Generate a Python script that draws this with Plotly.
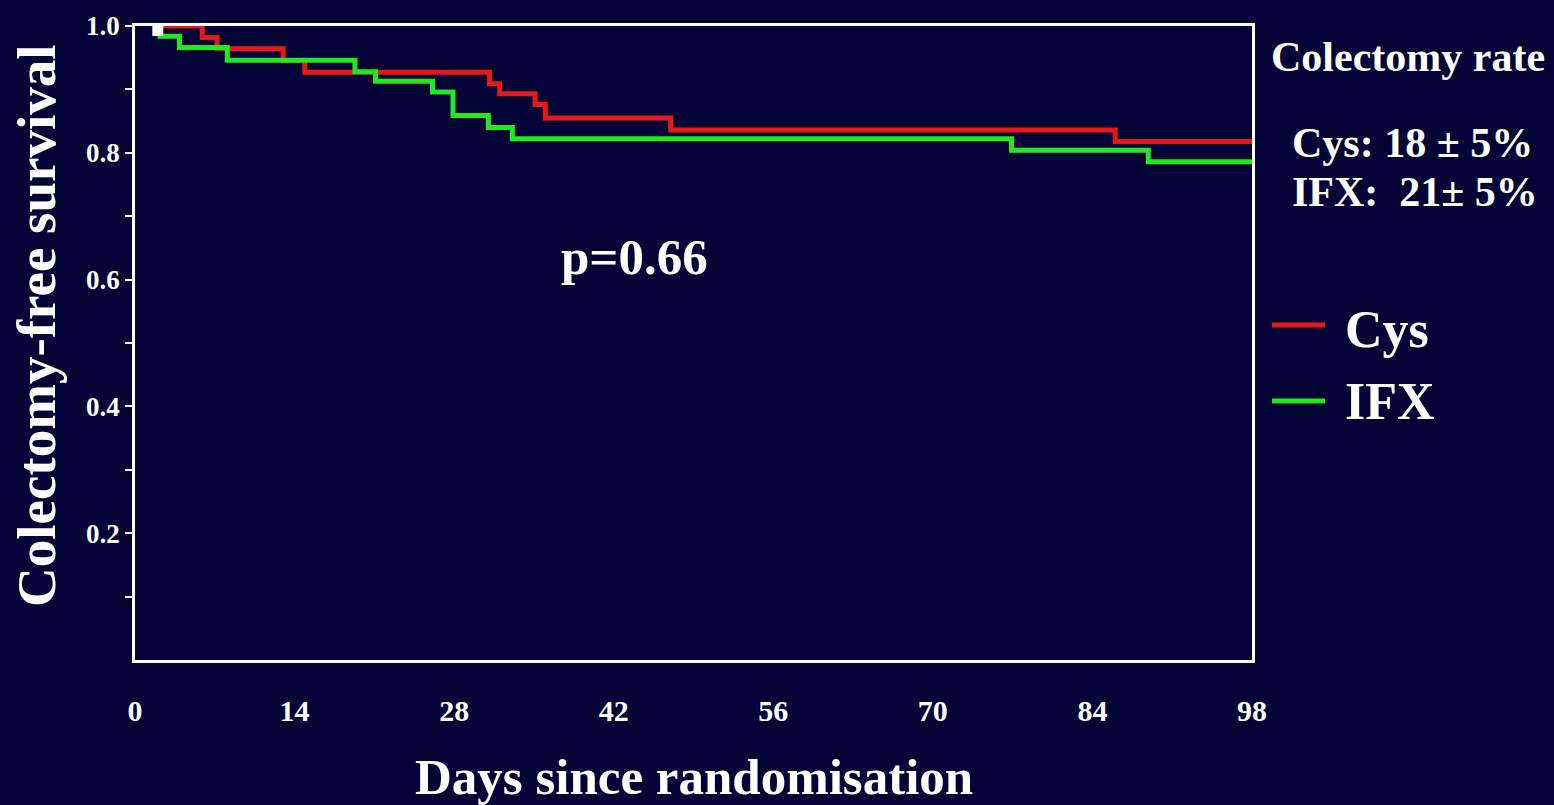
import plotly.graph_objects as go

# ---- data: Kaplan-Meier steps (day, colectomy-free survival) ----
cys_days = [2, 5.9, 7.2, 13.0, 14.9, 31.1, 32.0, 35.1, 36.0, 47.0, 86.0, 98]
cys_surv = [1.0, 0.982, 0.964, 0.945, 0.927, 0.909, 0.893, 0.876, 0.855, 0.836, 0.818, 0.818]

ifx_days = [2, 2.2, 3.9, 8.1, 19.3, 21.1, 26.1, 27.9, 31.0, 33.1, 76.9, 88.9, 98]
ifx_surv = [1.0, 0.984, 0.966, 0.946, 0.928, 0.913, 0.896, 0.859, 0.840, 0.822, 0.804, 0.786, 0.786]

start_day = [2]
start_surv = [0.993]

x_ticks = [0, 14, 28, 42, 56, 70, 84, 98]
y_major = [0.2, 0.4, 0.6, 0.8, 1.0]
y_major_labels = ["0.2", "0.4", "0.6", "0.8", "1.0"]
y_minor = [0.1, 0.3, 0.5, 0.7, 0.9]

series_names = ["Cys", "IFX"]
rate_lines = ["Cys: 18 \u00b1 5%", "IFX:\u00a0\u00a021\u00b1 5%"]
p_text = "p=0.66"

# ---- styling ----
BG = "#030336"
RED = "#e81818"
GREEN = "#22e822"
FONT = "Liberation Serif"
W, H = 1554, 805
L, R, T, B = 135, 302, 26, 145


def px_x(px):
    return (px - L) / (W - L - R)


def px_y(py):
    return (H - B - py) / (H - T - B)


fig = go.Figure()
fig.add_trace(go.Scatter(x=cys_days, y=cys_surv, mode="lines", line_shape="hv",
                         line=dict(color=RED, width=5), name=series_names[0]))
fig.add_trace(go.Scatter(x=ifx_days, y=ifx_surv, mode="lines", line_shape="hv",
                         line=dict(color=GREEN, width=5), name=series_names[1]))
fig.add_trace(go.Scatter(x=start_day, y=start_surv, mode="markers",
                         marker=dict(symbol="square", size=11, color="white"),
                         cliponaxis=False, showlegend=False))

axis_font = dict(family=FONT, color="white", weight="bold")

fig.update_layout(
    width=W, height=H, autosize=False,
    margin=dict(l=L, r=R, t=T, b=B),
    paper_bgcolor=BG, plot_bgcolor=BG,
    showlegend=False,
    xaxis=dict(range=[0, 98], tickvals=x_ticks, ticktext=[str(v) for v in x_ticks],
               showgrid=False, zeroline=False, showline=True, linecolor="white",
               linewidth=2.5, mirror=True, ticks="", ticklabelstandoff=22,
               tickfont=dict(size=30, **axis_font)),
    yaxis=dict(range=[0, 1.0], tickvals=y_major, ticktext=y_major_labels,
               showgrid=False, zeroline=False, showline=True, linecolor="white",
               linewidth=2.5, mirror=True, ticks="outside", ticklen=7, tickwidth=2,
               tickcolor="white", tickfont=dict(size=27, **axis_font),
               minor=dict(tickvals=y_minor, ticks="outside", ticklen=7, tickwidth=2,
                          tickcolor="white")),
)

ann = []
# axis titles
ann.append(dict(text="Days since randomisation", xref="paper", yref="paper",
                x=px_x(694), y=px_y(777), xanchor="center", yanchor="middle",
                showarrow=False, font=dict(size=51, **axis_font)))
ann.append(dict(text="Colectomy-free survival", xref="paper", yref="paper",
                x=px_x(37), y=px_y(326), xanchor="center", yanchor="middle",
                textangle=-90, showarrow=False, font=dict(size=55, **axis_font)))
# p-value
ann.append(dict(text=p_text, xref="paper", yref="paper", x=px_x(634), y=px_y(257),
                xanchor="center", yanchor="middle", showarrow=False,
                font=dict(size=51, **axis_font)))
# colectomy rate block
ann.append(dict(text="Colectomy rate", xref="paper", yref="paper", x=px_x(1408), y=px_y(57),
                xanchor="center", yanchor="middle", showarrow=False,
                font=dict(size=42, **axis_font)))
for line, cy in zip(rate_lines, [143, 192]):
    ann.append(dict(text=line, xref="paper", yref="paper", x=px_x(1290), y=px_y(cy),
                    xanchor="left", yanchor="middle", showarrow=False,
                    font=dict(size=42, **axis_font)))

# legend (swatch + label)
shapes = []
for name, color, cy_line, cy_text in zip(series_names, [RED, GREEN], [325, 401], [329, 401]):
    shapes.append(dict(type="line", xref="paper", yref="paper",
                       x0=px_x(1272), x1=px_x(1325), y0=px_y(cy_line), y1=px_y(cy_line),
                       line=dict(color=color, width=5)))
    ann.append(dict(text=name, xref="paper", yref="paper", x=px_x(1343), y=px_y(cy_text),
                    xanchor="left", yanchor="middle", showarrow=False,
                    font=dict(size=52, **axis_font)))

fig.update_layout(annotations=ann, shapes=shapes)
fig.write_html("out.html")
